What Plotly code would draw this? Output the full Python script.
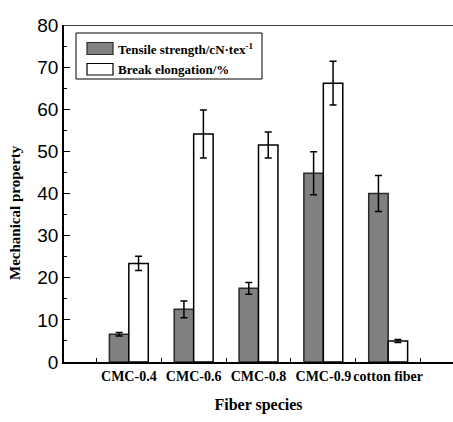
import plotly.graph_objects as go

categories = ["CMC-0.4", "CMC-0.6", "CMC-0.8", "CMC-0.9", "cotton fiber"]
positions = [1, 2, 3, 4, 5]
tensile = [6.6, 12.5, 17.5, 44.8, 40.0]
tensile_err = [0.4, 2.0, 1.4, 5.1, 4.3]
elong = [23.4, 54.1, 51.5, 66.2, 5.0]
elong_err = [1.7, 5.7, 3.1, 5.2, 0.35]
y_ticks = [0, 10, 20, 30, 40, 50, 60, 70, 80]
legend_names = ["Tensile strength/cN·tex<sup>-1</sup>", "Break elongation/%"]

serif = "Liberation Serif, Times New Roman, serif"
sans = "Liberation Sans, Arial, sans-serif"
gray = "#808080"

W, H = 453, 422
L, R, T, B = 64, 0, 25, 60
pw, ph = W - L - R, H - T - B


def px_x(x):
    return (x - L) / pw


def px_y(y):
    return (H - B - y) / ph


fig = go.Figure()
fig.add_trace(go.Bar(
    x=positions, y=tensile, name=legend_names[0],
    width=0.3, offset=-0.3,
    marker=dict(color=gray, line=dict(color="#2a2a2a", width=1.5)),
    error_y=dict(type="data", array=tensile_err, color="black", thickness=1.5, width=3.5),
))
fig.add_trace(go.Bar(
    x=positions, y=elong, name=legend_names[1],
    width=0.3, offset=0,
    marker=dict(color="white", line=dict(color="black", width=1.5)),
    error_y=dict(type="data", array=elong_err, color="black", thickness=1.5, width=3.5),
))

fig.update_layout(
    width=W, height=H,
    margin=dict(l=L, r=R, t=T, b=B),
    paper_bgcolor="white", plot_bgcolor="white",
    showlegend=False,
    xaxis=dict(
        range=[0, 6], tickvals=positions, ticktext=["<b>%s</b>" % c for c in categories],
        ticks="", ticklen=0, showline=True, linecolor="black", linewidth=1.5,
        tickfont=dict(family=serif, size=14, color="black"),
        showgrid=False, zeroline=False,
        minor=dict(tick0=0.5, dtick=1, ticks="inside", ticklen=4, tickcolor="black", showgrid=False),
        title=dict(text="<b>Fiber species</b>", font=dict(family=serif, size=16, color="black"), standoff=16),
    ),
    yaxis=dict(
        range=[0, 80], tickvals=y_ticks, ticks="inside", ticklen=6, tickwidth=1, tickcolor="black",
        showline=True, linecolor="black", linewidth=1.5,
        tickfont=dict(family=sans, size=19, color="black"),
        showgrid=False, zeroline=False,
        minor=dict(dtick=5, ticks="inside", ticklen=3, tickcolor="black", showgrid=False),
    ),
)
# top frame line
fig.add_shape(type="line", xref="paper", yref="y", x0=0, x1=1, y0=80, y1=80,
              line=dict(color="black", width=1.5))

# y axis title
fig.add_annotation(text="<b>Mechanical property</b>", xref="paper", yref="paper",
                   x=px_x(15), y=px_y(213), textangle=-90, showarrow=False,
                   xanchor="center", yanchor="middle",
                   font=dict(family=serif, size=15, color="black"))

# legend box (drawn manually)
fig.add_shape(type="rect", xref="paper", yref="paper",
              x0=px_x(76), x1=px_x(262), y0=px_y(79), y1=px_y(33),
              line=dict(color="black", width=1), fillcolor="white")
swatches = [(gray, "#2a2a2a", 42.5, 54.5), ("white", "black", 63.5, 75)]
for (fc, lc, y0, y1), name in zip(swatches, legend_names):
    fig.add_shape(type="rect", xref="paper", yref="paper",
                  x0=px_x(87), x1=px_x(113), y0=px_y(y1), y1=px_y(y0),
                  line=dict(color=lc, width=1.2), fillcolor=fc)
    fig.add_annotation(text="<b>%s</b>" % name, xref="paper", yref="paper",
                       x=px_x(116), y=px_y((y0 + y1) / 2), showarrow=False,
                       xanchor="left", yanchor="middle",
                       font=dict(family=serif, size=13, color="black"))

fig.write_html("out.html")
